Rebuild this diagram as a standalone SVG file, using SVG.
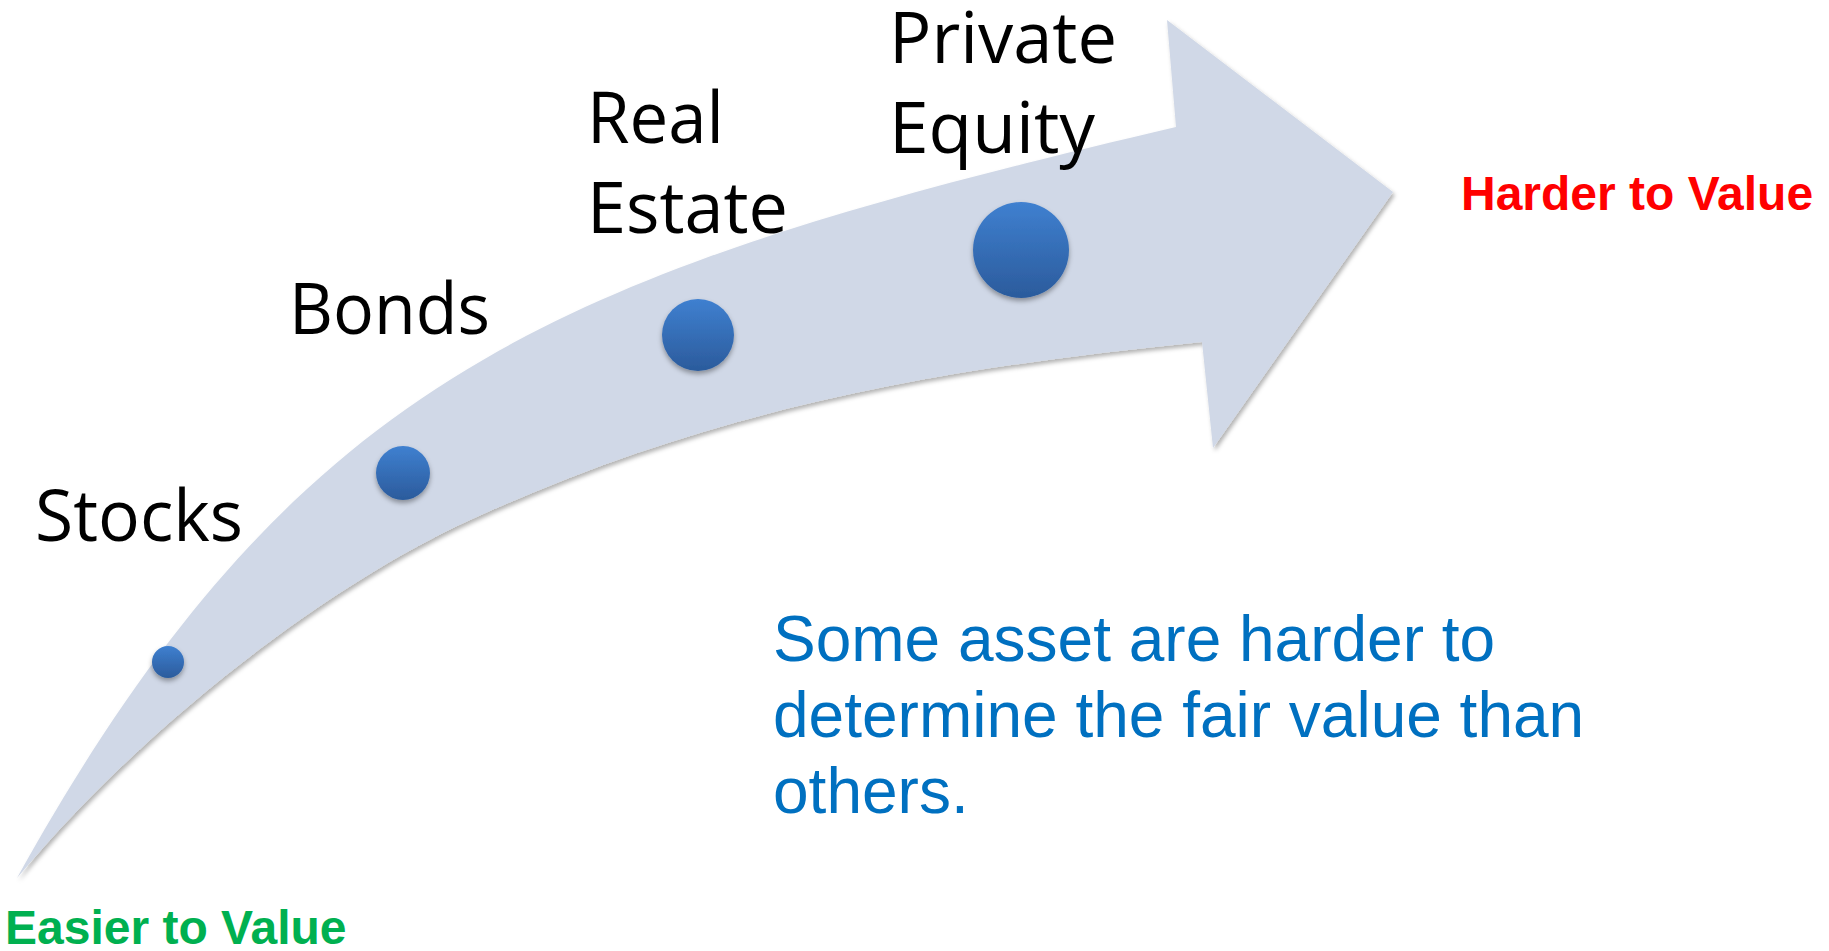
<svg xmlns="http://www.w3.org/2000/svg" width="1829" height="951" viewBox="0 0 1829 951">
<defs>
<style>
.lbl{font-family:"Open Sans","Liberation Sans",sans-serif;font-size:72px;fill:#000}
.end{font-family:"Liberation Sans",Arial,sans-serif;font-size:48px;font-weight:bold}
.note{font-family:"Liberation Sans",Arial,sans-serif;font-size:64px;fill:#0070c0}
.dot{fill:url(#dotg);filter:url(#dsh)}
</style>
<linearGradient id="dotg" x1="0" y1="0" x2="0" y2="1">
<stop offset="0" stop-color="#3f80d0"/>
<stop offset="1" stop-color="#2b5b9c"/>
</linearGradient>
<filter id="ash" x="-5%" y="-5%" width="115%" height="115%">
<feDropShadow dx="2" dy="3" stdDeviation="2" flood-color="#000" flood-opacity="0.3"/>
</filter>
<filter id="dsh" x="-30%" y="-30%" width="160%" height="170%">
<feDropShadow dx="0" dy="3" stdDeviation="2.5" flood-color="#000" flood-opacity="0.35"/>
</filter>
</defs>
<rect width="1829" height="951" fill="#fff"/>
<g id="connectors">
<path id="arrow" d="M17,878 C297,374 556,272.7 1176,127 L1167,20 L1393,192 L1213,448 L1202,342 C952,367 720,405 470,520 C330,584 147,722 17,878 Z" fill="#d0d8e7" filter="url(#ash)"/>
</g>
<g id="stocks">
<circle class="dot" cx="168" cy="662" r="16"/>
<text class="lbl" x="35" y="541" textLength="208" lengthAdjust="spacingAndGlyphs">Stocks</text>
</g>
<g id="bonds">
<circle class="dot" cx="403" cy="473" r="27"/>
<text class="lbl" x="289" y="334" textLength="201" lengthAdjust="spacingAndGlyphs">Bonds</text>
</g>
<g id="real-estate">
<circle class="dot" cx="698" cy="335" r="36"/>
<text class="lbl" x="587" y="143" textLength="137" lengthAdjust="spacingAndGlyphs">Real</text>
<text class="lbl" x="587" y="233" textLength="201" lengthAdjust="spacingAndGlyphs">Estate</text>
</g>
<g id="private-equity">
<circle class="dot" cx="1021" cy="250" r="48"/>
<text class="lbl" x="889" y="63" textLength="228" lengthAdjust="spacingAndGlyphs">Private</text>
<text class="lbl" x="889" y="153" textLength="206" lengthAdjust="spacingAndGlyphs">Equity</text>
</g>
<g id="harder">
<text class="end" x="1461" y="210" fill="#ff0000">Harder to Value</text>
</g>
<g id="easier">
<text class="end" x="5" y="944" fill="#00b050">Easier to Value</text>
</g>
<g id="note">
<text class="note" x="773" y="661">Some asset are harder to</text>
<text class="note" x="773" y="737">determine the fair value than</text>
<text class="note" x="773" y="813">others.</text>
</g>
</svg>
